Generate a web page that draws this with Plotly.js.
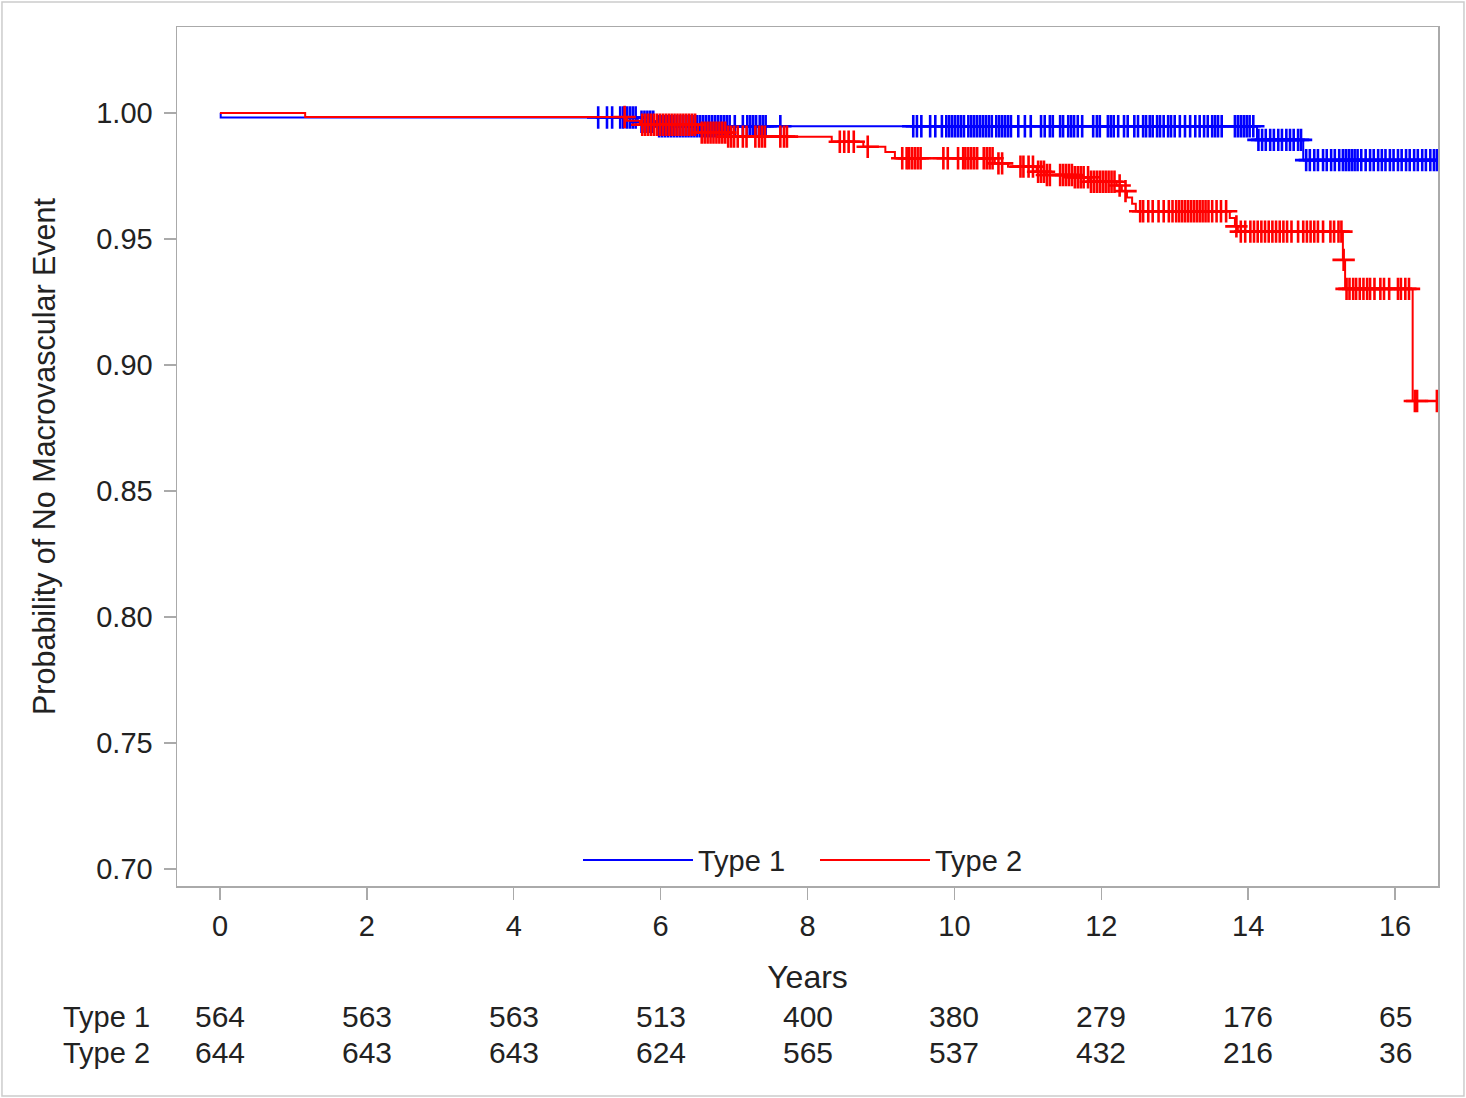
<!DOCTYPE html>
<html>
<head>
<meta charset="utf-8">
<script src="https://cdn.plot.ly/plotly-3.0.1.min.js"></script>
<style>html,body{margin:0;padding:0;background:#fff;}#chart{width:1466px;height:1098px;}</style>
</head>
<body>
<div id="chart"></div>
<script>
// ---- Data ----
var type1EventTimes = [0, 0.01, 5.69, 5.95, 14.12, 14.75];
var type1Survival   = [1, 0.9982, 0.9965, 0.9947, 0.9893, 0.9813];
var type1LastTime   = 16.57;
var type1Censored = [5.15, 5.27, 5.34, 5.45, 5.49, 5.54, 5.58, 5.62, 5.66, 5.74, 5.78, 5.82, 5.86, 5.90, 5.98, 6.02, 6.06, 6.10, 6.14, 6.18, 6.22, 6.26, 6.30, 6.34, 6.38, 6.42, 6.46, 6.50, 6.54, 6.58, 6.62, 6.66, 6.70, 6.74, 6.78, 6.82, 6.86, 6.90, 6.94, 7.01, 7.12, 7.18, 7.22, 7.26, 7.30, 7.35, 7.39, 7.43, 7.63,
  9.44, 9.49, 9.55, 9.67, 9.74, 9.83, 9.89, 9.93, 9.97, 10.01, 10.05, 10.09, 10.13, 10.19, 10.23, 10.27, 10.31, 10.35, 10.39, 10.43, 10.47, 10.51, 10.57, 10.61, 10.65, 10.69, 10.73, 10.77, 10.87, 10.96, 11.04, 11.18, 11.23, 11.30, 11.34, 11.44, 11.48, 11.55, 11.59, 11.63, 11.68, 11.74, 11.89, 11.94, 11.98, 12.09, 12.13, 12.17, 12.23, 12.31, 12.36, 12.45, 12.50, 12.57, 12.61, 12.66, 12.70, 12.76, 12.80, 12.85, 12.91, 12.95, 13.00, 13.07, 13.14, 13.21, 13.28, 13.34, 13.40, 13.45, 13.51, 13.55, 13.59, 13.64, 13.82, 13.86, 13.90, 13.94, 13.98, 14.02, 14.07,
  14.14, 14.19, 14.24, 14.30, 14.35, 14.41, 14.46, 14.52, 14.57, 14.62, 14.68, 14.72,
  14.79, 14.84, 14.90, 14.95, 15.02, 15.07, 15.13, 15.18, 15.24, 15.29, 15.33, 15.37, 15.41, 15.45, 15.49, 15.54, 15.60, 15.66, 15.71, 15.77, 15.82, 15.87, 15.93, 15.98, 16.04, 16.09, 16.15, 16.20, 16.26, 16.31, 16.37, 16.42, 16.48, 16.53, 16.57];

var type2EventTimes = [0, 1.16, 5.54, 5.72, 6.51, 6.90, 8.33, 8.76, 9.06, 9.19, 10.55, 10.73, 11.12, 11.23, 11.61, 11.85, 12.21, 12.28, 12.35, 12.42, 12.47, 13.75, 13.82, 13.86, 15.29, 15.32, 16.24];
var type2Survival   = [1, 0.9984, 0.9969, 0.9953, 0.9922, 0.9906, 0.9886, 0.9866, 0.9845, 0.9820, 0.9800, 0.9787, 0.9767, 0.9754, 0.9745, 0.9727, 0.9712, 0.9690, 0.9665, 0.9640, 0.9610, 0.9583, 0.9550, 0.9529, 0.9417, 0.9302, 0.8857];
var type2LastTime   = 16.57;
var type2Censored = [5.51, 5.75, 5.79, 5.83, 5.87, 5.91, 5.95, 5.99, 6.03, 6.07, 6.11, 6.15, 6.19, 6.23, 6.27, 6.31, 6.35, 6.39, 6.43, 6.47, 6.56, 6.60, 6.64, 6.68, 6.72, 6.76, 6.80, 6.84, 6.88, 6.92, 6.96, 7.00, 7.05, 7.12, 7.17, 7.29, 7.34, 7.38, 7.42, 7.63, 7.68, 7.72, 8.44, 8.50, 8.56, 8.63, 8.82, 9.29, 9.35, 9.38, 9.42, 9.46, 9.50, 9.54, 9.85, 9.91, 10.05, 10.12, 10.15, 10.19, 10.23, 10.27, 10.31, 10.40, 10.44, 10.48, 10.52, 10.60, 10.65, 10.90, 10.94, 11.01, 11.07, 11.14, 11.18, 11.22, 11.26, 11.30, 11.44, 11.48, 11.52, 11.56, 11.60, 11.64, 11.68, 11.72, 11.76, 11.82, 11.86, 11.90, 11.94, 11.98, 12.02, 12.06, 12.10, 12.14, 12.18, 12.25, 12.33, 12.53, 12.57, 12.64, 12.70, 12.78, 12.85, 12.92, 12.97, 13.02, 13.06, 13.10, 13.14, 13.18, 13.22, 13.26, 13.30, 13.34, 13.38, 13.42, 13.46, 13.51, 13.57, 13.63, 13.70, 13.84, 13.90, 13.96, 14.03, 14.08, 14.13, 14.18, 14.23, 14.28, 14.33, 14.38, 14.43, 14.48, 14.53, 14.59, 14.68, 14.75, 14.80, 14.85, 14.90, 14.95, 15.02, 15.12, 15.17, 15.23, 15.27, 15.30, 15.34, 15.38, 15.43, 15.47, 15.52, 15.57, 15.62, 15.66, 15.72, 15.80, 15.85, 15.92, 16.04, 16.08, 16.14, 16.19, 16.27, 16.30, 16.57];

var riskTimes = [0, 2, 4, 6, 8, 10, 12, 14, 16];
var riskType1 = [564, 563, 563, 513, 400, 380, 279, 176, 65];
var riskType2 = [644, 643, 643, 624, 565, 537, 432, 216, 36];
var groupNames = ['Type 1', 'Type 2'];
var groupColors = ['#0000FF', '#FF0000'];

// ---- helpers ----
function stepAt(times, surv, t) {
  var s = surv[0];
  for (var i = 0; i < times.length; i++) { if (times[i] <= t) s = surv[i]; }
  return s;
}
function curveTraces(times, surv, last, cens, name, color) {
  var xs = times.slice(); xs.push(last);
  var ys = surv.slice(); ys.push(surv[surv.length - 1]);
  return [
    {x: xs, y: ys, mode: 'lines', line: {shape: 'hv', color: color, width: 2}, name: name, hoverinfo: 'skip'},
    {x: cens, y: cens.map(function (t) { return stepAt(times, surv, t); }), mode: 'markers', showlegend: false,
     marker: {symbol: 'cross-thin', size: 16, line: {color: color, width: 2.6}}, name: name + ' censored', hoverinfo: 'skip'}
  ];
}

var traces = [].concat(
  curveTraces(type1EventTimes, type1Survival, type1LastTime, type1Censored, groupNames[0], groupColors[0]),
  curveTraces(type2EventTimes, type2Survival, type2LastTime, type2Censored, groupNames[1], groupColors[1])
);

var font = 'Liberation Sans, Arial, sans-serif';
var txtColor = '#222';
var annotations = [];
var rows = [riskType1, riskType2];
var rowY = [-0.1525, -0.1944];
for (var r = 0; r < 2; r++) {
  annotations.push({xref: 'paper', yref: 'paper', x: -0.0198, y: rowY[r], xanchor: 'right', yanchor: 'middle',
    text: groupNames[r], showarrow: false, font: {family: font, size: 29, color: txtColor}});
  for (var i = 0; i < riskTimes.length; i++) {
    annotations.push({xref: 'x', yref: 'paper', x: riskTimes[i], y: rowY[r], xanchor: 'center', yanchor: 'middle',
      text: String(rows[r][i]), showarrow: false, font: {family: font, size: 30, color: txtColor}});
  }
}

var layout = {
  width: 1466, height: 1098,
  margin: {l: 177, r: 28, t: 27, b: 212},
  paper_bgcolor: '#fff', plot_bgcolor: '#fff',
  font: {family: font, color: txtColor, size: 29},
  showlegend: true,
  legend: {orientation: 'h', x: 0.318, xanchor: 'left', y: 0.03, yanchor: 'middle',
    font: {family: font, size: 29, color: txtColor}, itemwidth: 110, entrywidth: 112, entrywidthmode: 'pixels',
    bgcolor: 'rgba(0,0,0,0)'},
  xaxis: {range: [-0.585, 16.585], tickmode: 'linear', tick0: 0, dtick: 2, showgrid: false, zeroline: false,
    showline: true, mirror: true, linecolor: '#aaa', linewidth: 1.5, ticks: 'outside', ticklen: 12,
    tickcolor: '#aaa', tickwidth: 1.5, ticklabelstandoff: 2, tickfont: {family: font, size: 29, color: txtColor},
    title: {text: 'Years', font: {family: font, size: 32, color: txtColor}, standoff: 24}},
  yaxis: {range: [0.6933, 1.0341], tickmode: 'linear', tick0: 0.7, dtick: 0.05, tickformat: '.2f',
    showgrid: false, zeroline: false, showline: true, mirror: true, linecolor: '#aaa', linewidth: 1.5,
    ticks: 'outside', ticklen: 12, tickcolor: '#aaa', tickwidth: 1.5, ticklabelstandoff: 5,
    tickfont: {family: font, size: 29, color: txtColor},
    title: {text: 'Probability of No Macrovascular Event', font: {family: font, size: 30.5, color: txtColor}, standoff: 31}},
  annotations: annotations,
  shapes: [{type: 'rect', xref: 'paper', yref: 'paper', x0: -0.1388, x1: 1.0206, y0: -0.2445, y1: 1.029,
    line: {color: '#ccc', width: 1.5}, fillcolor: 'rgba(0,0,0,0)', layer: 'below'}]
};

Plotly.newPlot('chart', traces, layout, {displayModeBar: false, staticPlot: true});
</script>
</body>
</html>
